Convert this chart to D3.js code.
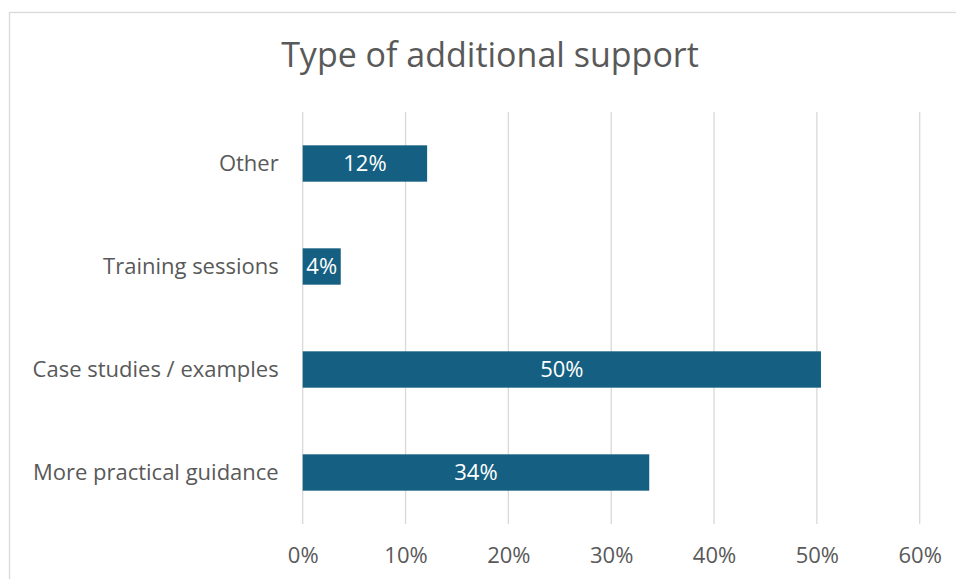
<!DOCTYPE html>
<html>
<head>
<meta charset="utf-8">
<script src="https://cdn.jsdelivr.net/npm/d3@7"></script>
<style>
  html, body { margin: 0; padding: 0; background: #fff; }
  svg { display: block; }
  text { font-family: "Open Sans", "Liberation Sans", sans-serif; }
</style>
</head>
<body>
<svg id="chart" width="956" height="579"></svg>
<script>
const title = "Type of additional support";
const categories = ["Other", "Training sessions", "Case studies / examples", "More practical guidance"];
const values = [0.121, 0.037, 0.504, 0.337];
const valueLabels = ["12%", "4%", "50%", "34%"];
const tickValues = [0, 0.1, 0.2, 0.3, 0.4, 0.5, 0.6];

const svg = d3.select("#chart");
const textColor = "#595959";
const barColor = "#156082";
const gridColor = "#d9d9d9";
const labelSize = 22;

// outer chart border
svg.append("rect")
  .attr("x", 9.5).attr("y", 12.5)
  .attr("width", 960).attr("height", 600)
  .attr("fill", "#fff").attr("stroke", gridColor).attr("stroke-width", 1.3);

const plot = { left: 302.7, right: 919.7, top: 112, bottom: 524 };

const x = d3.scaleLinear().domain([0, 0.6]).range([plot.left, plot.right]);
const y = d3.scaleBand().domain(categories).range([plot.top, plot.bottom])
  .paddingInner(0.647).paddingOuter(0.3235);

// title
svg.append("text")
  .attr("x", 490).attr("y", 67)
  .attr("text-anchor", "middle")
  .attr("font-size", 34)
  .attr("fill", textColor)
  .text(title);

// gridlines
svg.append("g").selectAll("line")
  .data(tickValues).join("line")
  .attr("x1", d => x(d)).attr("x2", d => x(d))
  .attr("y1", plot.top).attr("y2", plot.bottom)
  .attr("stroke", gridColor).attr("stroke-width", 1.3);

// x axis tick labels
const xAxis = d3.axisBottom(x).tickValues(tickValues).tickFormat(d3.format(".0%")).tickSize(0).tickPadding(0);
const gx = svg.append("g").attr("transform", `translate(0,${plot.bottom})`).call(xAxis);
gx.select(".domain").remove();
gx.selectAll("text")
  .attr("dy", null)
  .attr("y", 39)
  .attr("font-size", labelSize)
  .attr("font-family", "'Open Sans', 'Liberation Sans', sans-serif")
  .attr("fill", textColor);

// y axis labels
const yAxis = d3.axisLeft(y).tickSize(0).tickPadding(0);
const gy = svg.append("g").attr("transform", `translate(${plot.left - 24},0)`).call(yAxis);
gy.select(".domain").remove();
gy.selectAll("text")
  .attr("font-size", labelSize)
  .attr("font-family", "'Open Sans', 'Liberation Sans', sans-serif")
  .attr("fill", textColor)
  .attr("dy", "0.35em");

// bars
svg.append("g").selectAll("rect")
  .data(categories).join("rect")
  .attr("x", x(0))
  .attr("y", d => y(d))
  .attr("width", (d, i) => x(values[i]) - x(0))
  .attr("height", y.bandwidth())
  .attr("fill", barColor);

// value labels
svg.append("g").selectAll("text")
  .data(categories).join("text")
  .attr("x", (d, i) => (x(0) + x(values[i])) / 2)
  .attr("y", d => y(d) + y.bandwidth() / 2)
  .attr("dy", "0.35em")
  .attr("text-anchor", "middle")
  .attr("font-size", labelSize)
  .attr("fill", "#ffffff")
  .text((d, i) => valueLabels[i]);
</script>
</body>
</html>
